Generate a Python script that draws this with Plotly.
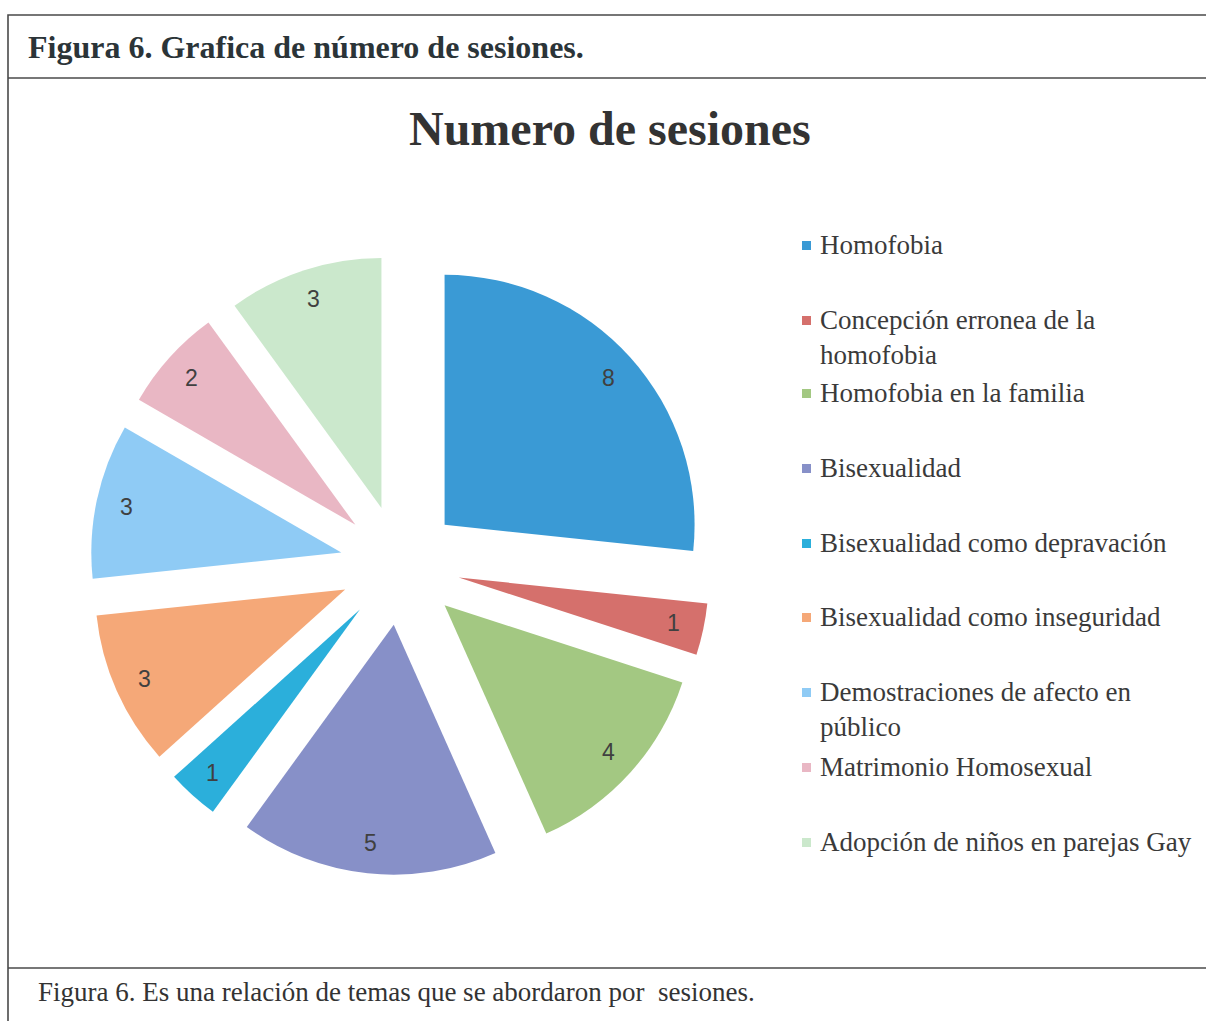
import math
import plotly.graph_objects as go

W, H = 1206, 1021

labels = ["Homofobia", "Concepción erronea de la homofobia", "Homofobia en la familia",
          "Bisexualidad", "Bisexualidad como depravación", "Bisexualidad como inseguridad",
          "Demostraciones de afecto en público", "Matrimonio Homosexual",
          "Adopción de niños en parejas Gay"]
legend_text = ["Homofobia", "Concepción erronea de la<br>homofobia", "Homofobia en la familia",
               "Bisexualidad", "Bisexualidad como depravación", "Bisexualidad como inseguridad",
               "Demostraciones de afecto en<br>público", "Matrimonio Homosexual",
               "Adopción de niños en parejas Gay"]
values = [8, 1, 4, 5, 1, 3, 3, 2, 3]
colors = ["#3A9AD5", "#D5706C", "#A3C882", "#8790C8", "#2BAFDB",
          "#F5A878", "#8FCBF5", "#E9B7C4", "#CBE8CC"]

def px(x):
    return x / W

def py(y):
    return 1 - y / H

PULL = 0.24
dom_x = [px(90), px(710)]
dom_y = [py(875), py(255)]

fig = go.Figure()
fig.add_trace(go.Pie(
    labels=labels, values=values, sort=False, direction="clockwise", rotation=0,
    marker=dict(colors=colors, line=dict(width=0)),
    pull=[PULL] * len(values),
    textinfo="none",
    domain=dict(x=dom_x, y=dom_y),
    showlegend=False, hoverinfo="label+value",
))

shapes = []
annotations = []

# data labels placed along each slice's mid-angle (Excel "best fit" look)
cx = (dom_x[0] + dom_x[1]) / 2 * W
cy = (1 - (dom_y[0] + dom_y[1]) / 2) * H
r = min((dom_x[1] - dom_x[0]) * W, (dom_y[1] - dom_y[0]) * H) / (2 + 2 * PULL)
total = sum(values)
cum = 0
for v in values:
    mid = (cum + v / 2) / total * 2 * math.pi
    cum += v
    R = r * (PULL + 0.88)
    lx = cx + R * math.sin(mid)
    ly = cy - R * math.cos(mid)
    annotations.append(dict(text=str(v), x=px(lx), y=py(ly), xref="paper", yref="paper",
                            xanchor="center", yanchor="middle", showarrow=False,
                            font=dict(family="Liberation Sans, Arial", size=23, color="#404040")))

line_col = "#4a4a4a"
shapes.append(dict(type="rect", xref="paper", yref="paper", x0=px(8), x1=px(1212), y0=py(1025), y1=py(15),
                   line=dict(color=line_col, width=1.6)))
shapes.append(dict(type="line", xref="paper", yref="paper", x0=px(8), x1=px(1212), y0=py(78), y1=py(78),
                   line=dict(color=line_col, width=1.6)))
shapes.append(dict(type="line", xref="paper", yref="paper", x0=px(8), x1=px(1212), y0=py(968), y1=py(968),
                   line=dict(color=line_col, width=1.6)))

serif = "Liberation Serif, Times New Roman, serif"
annotations.append(dict(text="<b>Figura 6. Grafica de número de sesiones.</b>", x=px(26), y=py(47),
                        xref="paper", yref="paper", xanchor="left", yanchor="middle", showarrow=False,
                        font=dict(family=serif, size=32, color="#2b3438")))
annotations.append(dict(text="<b>Numero de sesiones</b>", x=px(610), y=py(128),
                        xref="paper", yref="paper", xanchor="center", yanchor="middle", showarrow=False,
                        font=dict(family=serif, size=48, color="#333333")))
annotations.append(dict(text="Figura 6. Es una relación de temas que se abordaron por  sesiones.", x=px(36), y=py(992),
                        xref="paper", yref="paper", xanchor="left", yanchor="middle", showarrow=False,
                        font=dict(family=serif, size=27, color="#333333")))

legend_y = [245, 320, 393, 468, 543, 617, 692, 767, 842]
for t, c, yy in zip(legend_text, colors, legend_y):
    shapes.append(dict(type="rect", xref="paper", yref="paper", x0=px(802), x1=px(811),
                       y0=py(yy + 5), y1=py(yy - 4), fillcolor=c, line=dict(width=0)))
    annotations.append(dict(text=t, x=px(818), y=py(yy - 17), xref="paper", yref="paper",
                            xanchor="left", yanchor="top", align="left", showarrow=False,
                            font=dict(family=serif, size=27, color="#3a3a3a")))

fig.update_layout(width=W, height=H, margin=dict(l=0, r=0, t=0, b=0),
                  paper_bgcolor="white", plot_bgcolor="white",
                  shapes=shapes, annotations=annotations, showlegend=False)
fig.write_html("out.html")
